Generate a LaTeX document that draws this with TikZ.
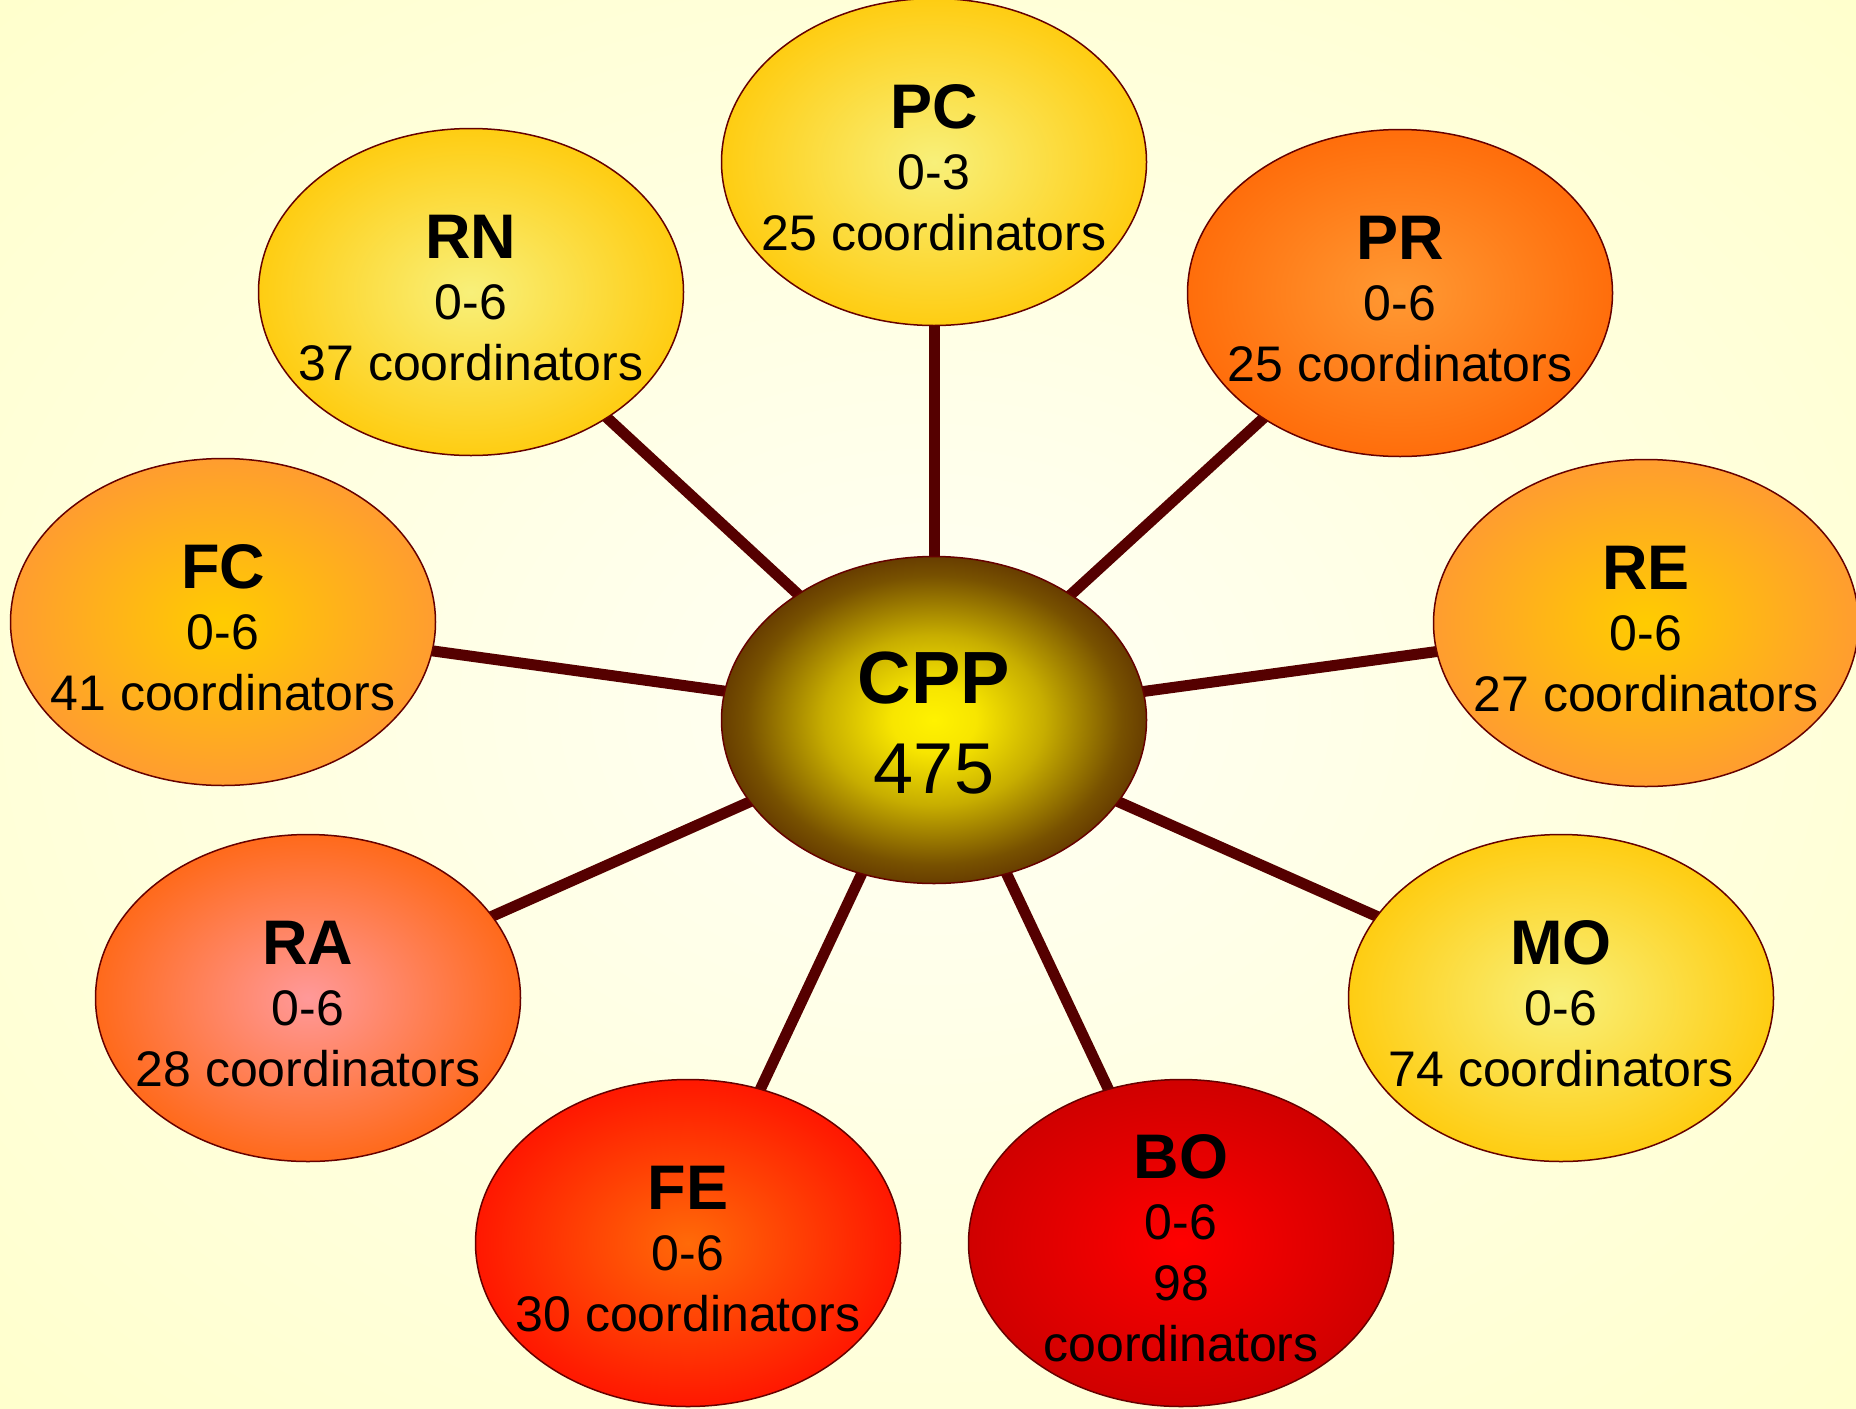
\documentclass[tikz,border=0pt]{standalone}
\usepackage{fontspec}
\setmainfont{Liberation Sans}
\usetikzlibrary{shapes.geometric}
\pgfdeclarelayer{bglayer}
\pgfdeclarelayer{edgelayer}
\pgfsetlayers{bglayer,edgelayer,main}
\colorlet{rin}{white}
\colorlet{rout}{white}
\definecolor{rimred}{HTML}{660000}
\definecolor{connred}{HTML}{550000}
\definecolor{paleyel}{HTML}{F8F07A}
\definecolor{gold}{HTML}{FFCA0A}
\definecolor{orlight}{HTML}{FF9933}
\definecolor{ordark}{HTML}{FF6A08}
\definecolor{yelgold}{HTML}{FFCC00}
\definecolor{pinkc}{HTML}{FF9999}
\definecolor{orred}{HTML}{FF6611}
\definecolor{redc}{HTML}{FF1100}
\definecolor{purered}{HTML}{FF0000}
\definecolor{darkred}{HTML}{CC0000}
% the ellipse edge falls at about 35bp of the shading radius
\pgfdeclareradialshading[rin,rout]{rshade}{\pgfpoint{0bp}{0bp}}{color(0bp)=(rin); color(27bp)=(rout); color(50bp)=(rout)}
\pgfdeclareradialshading{cppshade}{\pgfpoint{0bp}{0bp}}{rgb(0bp)=(1,0.95,0); rgb(5bp)=(0.97,0.9,0); rgb(13bp)=(0.78,0.68,0); rgb(22bp)=(0.47,0.32,0); rgb(30bp)=(0.3,0.11,0); rgb(50bp)=(0.3,0.11,0)}
\pgfdeclareradialshading{bgshade}{\pgfpoint{0bp}{0bp}}{rgb(0bp)=(1,1,0.96); rgb(36bp)=(1,1,0.8); rgb(50bp)=(1,1,0.8)}
\tikzset{
  bubble/.style 2 args={ellipse, draw=rimred, line width=0.75pt,
    minimum width=212.5pt, minimum height=163.5pt, inner xsep=-30pt, inner ysep=-10pt, outer sep=0pt,
    align=center, font=\fontsize{25}{30.5}\selectfont,
    /utils/exec={\colorlet{rin}{#1}\colorlet{rout}{#2}}, shade, shading=rshade},
  hubnode/.style={ellipse, draw=rimred, line width=0.75pt,
    minimum width=212.5pt, minimum height=163.5pt, inner xsep=-10pt, inner ysep=-10pt, outer sep=0pt,
    align=center, font=\fontsize{36}{45}\selectfont, shade, shading=cppshade},
  conn/.style={draw=connred, line width=5.5pt},
}
\newcommand{\ttl}[1]{{\bfseries\fontsize{31.5}{30.5}\selectfont\rule{0pt}{27.5pt}#1}}
\begin{document}
\begin{tikzpicture}[x=0.5pt,y=-0.5pt]
\useasboundingbox (0,0) rectangle (1856,1408);
\begin{pgfonlayer}{bglayer}
  \shade[shading=bgshade] (0,0) rectangle (1856,1408);
\end{pgfonlayer}

\node[hubnode] (cpp) at (934,720) {{\bfseries\fontsize{37}{45}\selectfont\rule{0pt}{28.5pt}CPP}\\475};

\node[bubble={paleyel}{gold}] (pc) at (934,162) {\ttl{PC}\\0-3\\25 coordinators};
\node[bubble={paleyel}{gold}] (rn) at (471,292) {\ttl{RN}\\0-6\\37 coordinators};
\node[bubble={orlight}{ordark}] (pr) at (1400,293) {\ttl{PR}\\0-6\\25 coordinators};
\node[bubble={yelgold}{orlight}] (fc) at (223,622) {\ttl{FC}\\0-6\\41 coordinators};
\node[bubble={yelgold}{orlight}] (re) at (1646,623) {\ttl{RE}\\0-6\\27 coordinators};
\node[bubble={pinkc}{orred}] (ra) at (308,998) {\ttl{RA}\\0-6\\28 coordinators};
\node[bubble={paleyel}{gold}] (mo) at (1561,998) {\ttl{MO}\\0-6\\74 coordinators};
\node[bubble={ordark}{redc}] (fe) at (688,1243) {\ttl{FE}\\0-6\\30 coordinators};
\node[bubble={purered}{darkred}] (bo) at (1181,1243) {\ttl{BO}\\0-6\\98\\coordinators};

\begin{pgfonlayer}{edgelayer}
  \foreach \n in {pc,rn,pr,fc,re,ra,mo,fe,bo}
    \draw[conn] (cpp.center) -- (\n.center);
\end{pgfonlayer}
\end{tikzpicture}
\end{document}
